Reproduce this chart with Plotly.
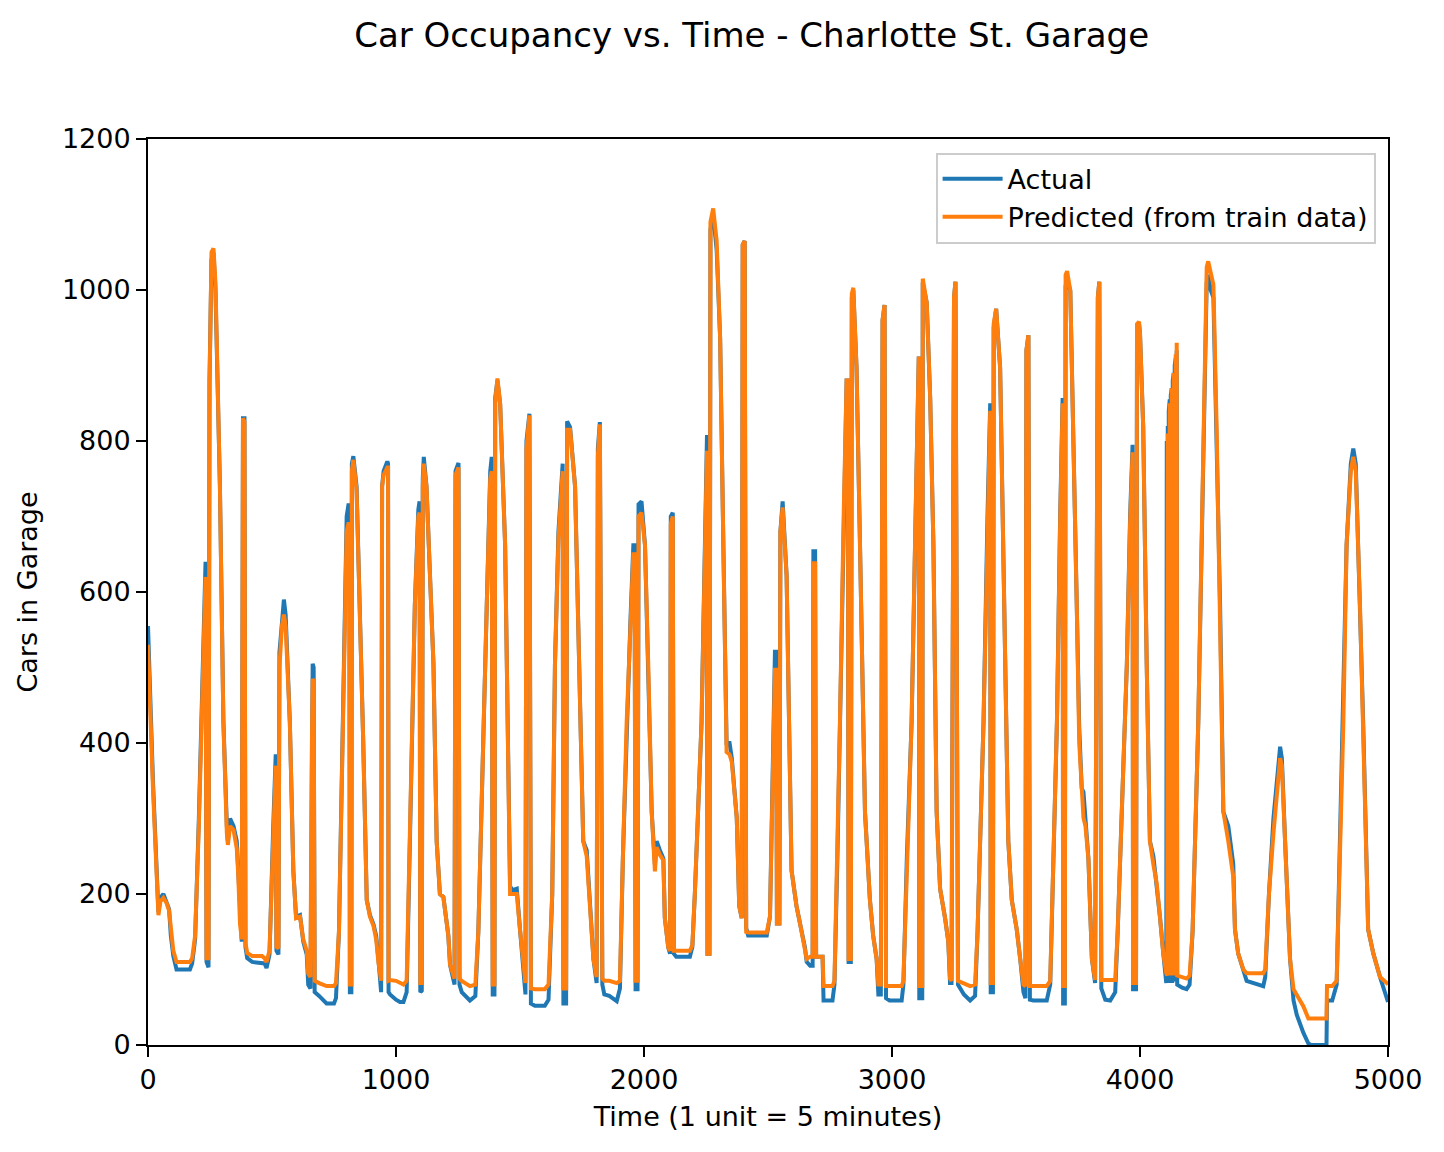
import plotly.graph_objects as go

# Time index (1 unit = 5 minutes)
time = [
    0, 20, 42, 50, 62, 75, 85, 92, 102, 115, 169, 178, 190, 205, 216, 228, 232, 236, 244, 248,
    256, 264, 272, 290, 304, 318, 322, 331, 345, 358, 364, 371, 378, 383, 389, 393, 400, 420, 460, 470,
    478, 490, 505, 512, 515, 518, 526, 530, 540, 548, 555, 572, 586, 597, 613, 626, 640, 646, 655, 660,
    664, 668, 672, 690, 720, 750, 758, 770, 785, 801, 808, 812, 814, 820, 822, 828, 841, 855, 868, 882,
    895, 909, 920, 929, 935, 940, 944, 950, 965, 968, 970, 976, 1000, 1016, 1030, 1043, 1058, 1068, 1076, 1090,
    1095, 1098, 1104, 1108, 1112, 1123, 1137, 1151, 1164, 1177, 1191, 1211, 1218, 1231, 1236, 1240, 1252, 1256, 1265, 1298,
    1320, 1332, 1352, 1366, 1380, 1386, 1390, 1397, 1400, 1409, 1420, 1440, 1460, 1470, 1487, 1500, 1514, 1522, 1526, 1538,
    1544, 1560, 1600, 1615, 1630, 1641, 1655, 1668, 1672, 1675, 1686, 1690, 1702, 1722, 1742, 1755, 1769, 1782, 1796, 1809,
    1814, 1822, 1832, 1840, 1860, 1890, 1903, 1915, 1930, 1945, 1957, 1962, 1966, 1974, 1978, 1990, 2004, 2017, 2031, 2044,
    2051, 2064, 2078, 2084, 2098, 2105, 2108, 2116, 2120, 2130, 2185, 2195, 2205, 2232, 2245, 2250, 2254, 2256, 2264, 2268,
    2279, 2293, 2307, 2320, 2333, 2345, 2354, 2374, 2384, 2394, 2398, 2406, 2412, 2420, 2495, 2508, 2520, 2528, 2533, 2536,
    2546, 2550, 2559, 2575, 2595, 2615, 2629, 2649, 2656, 2670, 2680, 2683, 2690, 2694, 2720, 2724, 2760, 2768, 2780, 2790,
    2805, 2817, 2822, 2825, 2834, 2838, 2844, 2857, 2871, 2891, 2911, 2924, 2938, 2945, 2955, 2962, 2970, 2976, 2990, 3039,
    3046, 3060, 3079, 3095, 3104, 3108, 3110, 3122, 3124, 3140, 3154, 3167, 3180, 3194, 3214, 3227, 3234, 3240, 3250, 3256,
    3266, 3290, 3315, 3335, 3345, 3369, 3385, 3393, 3396, 3398, 3407, 3410, 3420, 3436, 3449, 3469, 3483, 3503, 3517, 3530,
    3538, 3542, 3550, 3556, 3570, 3624, 3638, 3650, 3665, 3678, 3685, 3688, 3690, 3697, 3700, 3706, 3719, 3732, 3745, 3755,
    3765, 3772, 3780, 3792, 3806, 3819, 3830, 3836, 3844, 3860, 3880, 3900, 3910, 3930, 3947, 3960, 3967, 3970, 3972, 3984,
    3988, 3996, 4000, 4013, 4027, 4040, 4054, 4067, 4081, 4094, 4106,
    4108, 4110, 4112, 4114, 4116, 4118, 4120, 4122, 4124, 4126, 4128, 4130, 4132, 4134, 4136, 4138, 4140, 4142, 4144, 4146,
    4148, 4150, 4170, 4188, 4200, 4212, 4235, 4255, 4269, 4275, 4285, 4296, 4309, 4323, 4336, 4356, 4376, 4383, 4396,
    4417, 4430, 4497, 4505, 4520, 4538, 4565, 4572, 4585, 4605, 4619, 4632, 4659, 4679, 4690, 4752, 4754, 4775, 4793, 4805,
    4820, 4833, 4850, 4860, 4870, 4887, 4900, 4920, 4941, 4968, 4995, 5000,
]

actual = [
    555, 350, 176, 195, 200, 190, 180, 145, 118, 100, 100, 108, 140, 300, 450, 640, 640, 110, 103, 880,
    1040, 1050, 1000, 740, 430, 290, 270, 300, 290, 270, 230, 160, 137, 830, 830, 130, 115, 110, 108, 108,
    102, 120, 290, 385, 385, 125, 120, 520, 570, 590, 570, 427, 231, 170, 172, 137, 120, 80, 75, 380,
    505, 500, 70, 65, 55, 55, 62, 150, 420, 700, 715, 715, 70, 70, 770, 780, 740, 583, 400, 192,
    172, 160, 145, 114, 90, 70, 740, 760, 773, 770, 70, 67, 60, 57, 57, 70, 300, 500, 583, 709,
    720, 70, 72, 750, 779, 740, 622, 505, 270, 200, 196, 145, 106, 82, 80, 760, 771, 80, 70, 59,
    65, 150, 427, 583, 760, 779, 67, 67, 857, 880, 849, 662, 210, 205, 207, 153, 98, 67, 800, 836,
    55, 52, 52, 60, 200, 505, 680, 770, 770, 55, 55, 826, 818, 740, 427, 270, 258, 192, 114, 82,
    790, 825, 80, 67, 65, 58, 75, 250, 427, 560, 662, 662, 74, 74, 716, 720, 662, 505, 309, 239,
    270, 258, 247, 168, 129, 121, 700, 705, 121, 117, 117, 130, 200, 427, 700, 808, 808, 121, 121, 1080,
    1100, 1053, 936, 662, 400, 400, 380, 301, 184, 168, 1060, 1065, 155, 145, 145, 170, 400, 521, 521, 161,
    161, 680, 720, 622, 231, 184, 161, 129, 110, 105, 105, 654, 654, 117, 117, 59, 59, 80, 250, 427,
    700, 880, 880, 110, 110, 990, 1000, 897, 662, 309, 192, 145, 114, 67, 67, 960, 980, 62, 59, 59,
    80, 250, 427, 700, 912, 912, 62, 62, 1010, 983, 857, 662, 309, 207, 168, 137, 82, 82, 990, 1011,
    80, 67, 59, 65, 150, 427, 700, 850, 850, 70, 70, 950, 975, 897, 662, 270, 192, 153, 114, 70,
    62, 920, 940, 60, 59, 59, 80, 250, 427, 700, 857, 857, 55, 55, 1005, 1015, 999, 818, 583, 420,
    340, 335, 300, 247, 114, 82, 990, 1011, 75, 60, 59, 70, 150, 350, 505, 700, 795, 795, 74, 74,
    950, 955, 943, 818, 505, 270, 250, 215, 168, 121, 82,
    800, 82, 820, 82, 840, 82, 855, 82, 860, 82, 870, 82, 880, 84, 890, 84, 900, 85, 910, 85,
    920, 80, 76, 74, 80, 150, 427, 800, 1010, 1020, 1000, 990, 818, 583, 309, 290, 240, 153, 121,
    100, 85, 78, 90, 200, 300, 395, 380, 270, 114, 59, 40, 16, 2, 0, 0, 59, 59, 80, 250,
    427, 662, 770, 790, 770, 583, 427, 153, 121, 90, 59, 57,
]

predicted = [
    530, 340, 172, 190, 195, 188, 178, 150, 125, 110, 110, 115, 145, 290, 440, 620, 620, 115, 115, 870,
    1050, 1055, 1010, 740, 427, 280, 265, 290, 285, 260, 225, 160, 140, 830, 825, 135, 122, 118, 118, 115,
    110, 125, 280, 370, 370, 130, 128, 500, 555, 570, 555, 427, 231, 168, 170, 140, 125, 95, 90, 370,
    485, 480, 85, 82, 78, 78, 82, 150, 410, 680, 690, 690, 80, 80, 760, 775, 735, 583, 400, 192,
    170, 158, 140, 110, 90, 85, 740, 755, 765, 765, 85, 86, 85, 82, 80, 85, 290, 480, 583, 700,
    705, 82, 82, 740, 770, 740, 622, 505, 270, 200, 196, 145, 106, 90, 88, 755, 765, 88, 85, 78,
    80, 150, 427, 583, 750, 760, 80, 80, 850, 883, 849, 662, 200, 200, 200, 153, 100, 82, 790, 834,
    75, 74, 74, 80, 200, 505, 670, 760, 760, 75, 75, 815, 815, 740, 427, 270, 250, 192, 114, 90,
    780, 822, 88, 85, 85, 82, 85, 250, 427, 550, 650, 650, 85, 85, 700, 705, 662, 505, 309, 230,
    262, 252, 245, 168, 129, 125, 690, 700, 125, 125, 125, 132, 200, 427, 680, 787, 787, 121, 121, 1090,
    1108, 1065, 936, 662, 388, 385, 375, 301, 184, 168, 1060, 1065, 150, 149, 149, 170, 390, 497, 497, 161,
    161, 680, 712, 622, 231, 184, 161, 129, 114, 117, 117, 638, 638, 117, 117, 78, 78, 85, 250, 427,
    700, 880, 880, 114, 114, 995, 1003, 897, 662, 309, 192, 145, 114, 80, 80, 960, 980, 78, 78, 78,
    85, 250, 427, 700, 912, 912, 78, 78, 1015, 983, 857, 662, 309, 207, 168, 137, 88, 85, 990, 1011,
    85, 82, 78, 80, 150, 427, 690, 840, 840, 82, 82, 955, 975, 897, 662, 270, 192, 153, 114, 80,
    78, 920, 940, 78, 78, 78, 85, 250, 427, 690, 850, 850, 78, 78, 1020, 1025, 999, 818, 583, 400,
    325, 301, 290, 247, 114, 86, 990, 1011, 86, 86, 86, 86, 150, 350, 505, 690, 785, 785, 82, 82,
    955, 958, 943, 818, 505, 270, 239, 215, 168, 121, 95,
    790, 92, 810, 92, 830, 92, 850, 92, 860, 92, 870, 92, 880, 92, 890, 92, 905, 92, 915, 92,
    930, 92, 90, 88, 92, 150, 427, 800, 1030, 1038, 1020, 1007, 818, 583, 309, 270, 223, 153, 121,
    100, 95, 95, 100, 200, 280, 380, 370, 270, 114, 74, 67, 51, 35, 35, 35, 78, 78, 85, 250,
    427, 662, 760, 779, 760, 583, 427, 153, 121, 90, 82, 80,
]

x_ticks = [0, 1000, 2000, 3000, 4000, 5000]
y_ticks = [0, 200, 400, 600, 800, 1000, 1200]

FONT = "DejaVu Sans"

fig = go.Figure()
fig.add_trace(go.Scatter(x=time, y=actual, mode="lines", name="Actual",
                         line=dict(color="#1f77b4", width=4)))
fig.add_trace(go.Scatter(x=time, y=predicted, mode="lines", name="Predicted (from train data)",
                         line=dict(color="#ff7f0e", width=4)))

axis_common = dict(showline=True, linecolor="black", linewidth=2, mirror=True,
                   ticks="outside", ticklen=10, tickwidth=2, tickcolor="black",
                   showgrid=False, zeroline=False,
                   tickfont=dict(family=FONT, size=27, color="black"))

fig.update_xaxes(range=[0, 5000], tickvals=x_ticks,
                 title=dict(text="Time (1 unit = 5 minutes)", font=dict(family=FONT, size=27, color="black"), standoff=13),
                 **axis_common)
fig.update_yaxes(range=[0, 1200], tickvals=y_ticks,
                 title=dict(text="Cars in Garage", font=dict(family=FONT, size=27, color="black"), standoff=16),
                 **axis_common)

fig.update_layout(
    width=1444, height=1152,
    margin=dict(l=140, r=64, t=131, b=115),
    paper_bgcolor="white", plot_bgcolor="white",
    title=dict(text="Car Occupancy vs. Time - Charlotte St. Garage",
               font=dict(family=FONT, size=34, color="black"),
               x=0.515, xanchor="center", y=1 - 27 / 1152, yanchor="middle", yref="container"),
    legend=dict(x=0.99, xanchor="right", y=0.985, yanchor="top",
                bgcolor="rgba(255,255,255,0.8)", bordercolor="#cccccc", borderwidth=2,
                font=dict(family=FONT, size=27, color="black"), itemwidth=60),
    showlegend=True,
)

fig.write_html("out.html")
